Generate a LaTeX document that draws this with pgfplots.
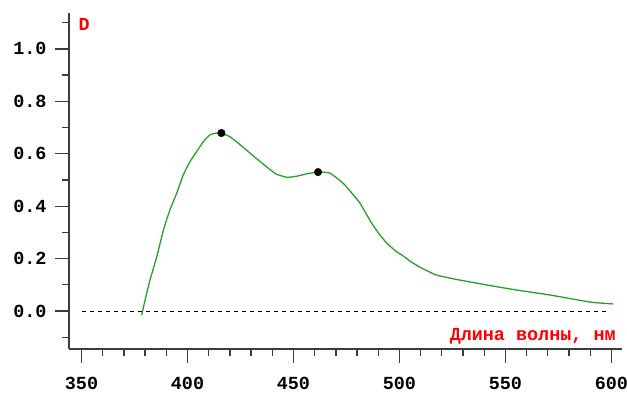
\documentclass[border=0pt]{standalone}
\usepackage{fontspec}
\setmainfont{Liberation Mono}
\usepackage{pgfplots}
\pgfplotsset{compat=1.18}
\definecolor{curve}{RGB}{40,160,40}
\definecolor{axgray}{RGB}{60,60,60}
\begin{document}
\begin{tikzpicture}[x=1bp,y=1bp]
\begin{axis}[
  at={(0,0)}, anchor=south west,
  scale only axis, width=553bp, height=336bp,
  xmin=344.1, xmax=605, ymin=-0.145, ymax=1.137,
  axis x line=bottom, axis y line=left,
  axis line style={-, line width=1.6pt, color=axgray},
  tick style={line width=1.3pt, color=axgray},
  tick align=outside,
  major tick length=14bp, minor tick length=7bp,
  xtick={350,400,450,500,550,600},
  minor xtick={360,370,380,390,410,420,430,440,460,470,480,490,510,520,530,540,560,570,580,590},
  ytick={0,0.2,0.4,0.6,0.8,1.0},
  minor ytick={-0.1,0.1,0.3,0.5,0.7,0.9,1.1},
  /pgf/number format/assume math mode=true,
  yticklabel style={xshift=-5bp, /pgf/number format/.cd, fixed, fixed zerofill, precision=1},
  xticklabel style={yshift=-11bp, /pgf/number format/.cd, 1000 sep={}},
  ticklabel style={font=\bfseries\fontsize{18.5}{18.5}\selectfont, text=black},
  clip=false,
]
\addplot[dashed, black, line width=0.8pt, dash pattern=on 4bp off 4bp] coordinates {(350,0) (598,0)};
\addplot[curve, line width=1.3pt, smooth, tension=0.3] coordinates {
(378.4,-0.015) (380,0.042) (382.3,0.118) (385.5,0.207) (388.9,0.316)
(391.7,0.385) (394.9,0.449) (398,0.519) (401.2,0.570) (404.3,0.608)
(407.5,0.646) (410.6,0.672) (413,0.678) (416,0.679) (420,0.665)
(424,0.64) (428.7,0.608) (433.4,0.576) (438.1,0.545) (442,0.522)
(447,0.51) (452,0.515) (456,0.523) (461.6,0.53) (467.2,0.526) (473.5,0.487)
(477.5,0.45) (481.4,0.411) (486.9,0.335) (490.8,0.29)
(494.5,0.255) (498.7,0.226) (501.8,0.21) (505,0.19) (509.7,0.167)
(517.5,0.137) (528.5,0.118) (544.2,0.095) (555.3,0.08) (571,0.061)
(590,0.034) (600.7,0.027)};
\addplot[only marks, mark=*, mark size=3.8bp, black] coordinates {(416,0.679) (461.6,0.53)};
\node[anchor=base west, text=red, font=\bfseries\fontsize{18.5}{18.5}\selectfont, inner sep=0pt] at (axis cs:348.5,1.072) {D};
\node[anchor=base east, text=red, font=\bfseries\fontsize{18.5}{18.5}\selectfont, inner sep=0pt] at (axis cs:602.1,-0.111) {Длина волны, нм};
\end{axis}
\pgfresetboundingbox
\path[use as bounding box] (-69bp,-44bp) rectangle (558bp,349bp);
\end{tikzpicture}
\end{document}
